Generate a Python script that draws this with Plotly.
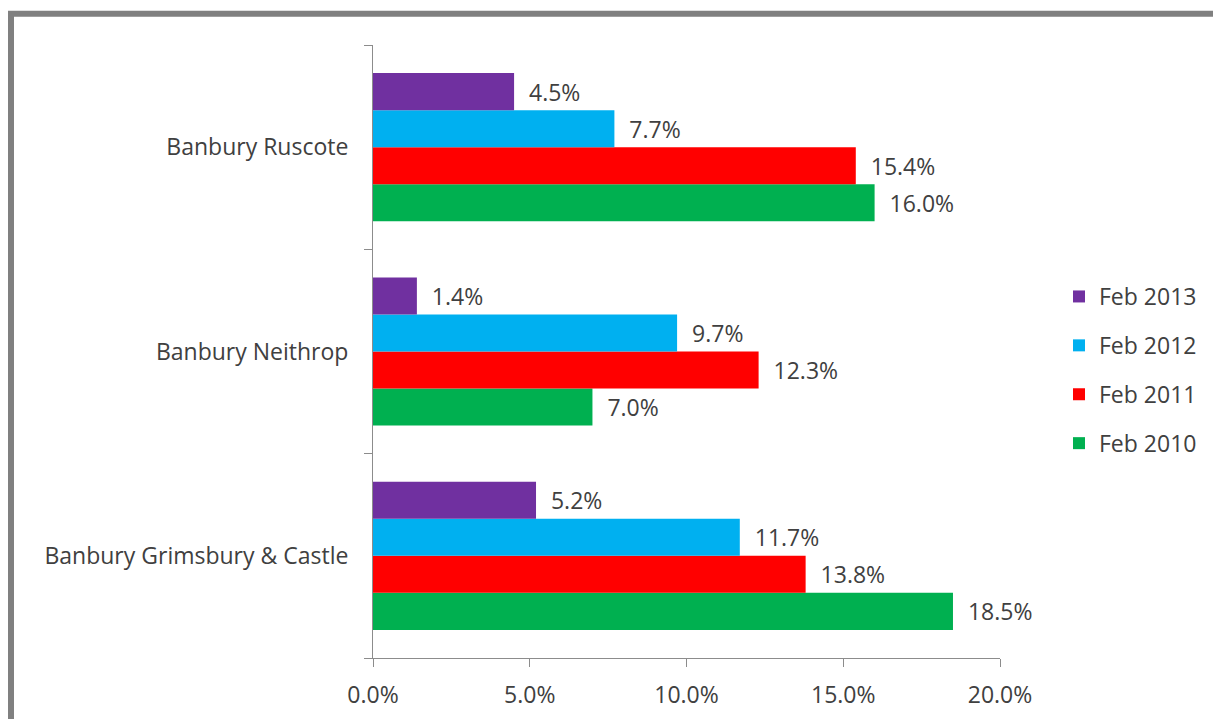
import plotly.graph_objects as go

# Ward names, bottom to top on the category axis
wards = ["Banbury Grimsbury & Castle", "Banbury Neithrop", "Banbury Ruscote"]

# Percentage values per ward for each February
feb_2010 = [18.5, 7.0, 16.0]
feb_2011 = [13.8, 12.3, 15.4]
feb_2012 = [11.7, 9.7, 7.7]
feb_2013 = [5.2, 1.4, 4.5]

# (legend name, values, colour, legend rank) — first trace sits lowest in each group
series = [
    ("Feb 2010", feb_2010, "#00B050", 4),
    ("Feb 2011", feb_2011, "#FF0000", 3),
    ("Feb 2012", feb_2012, "#00B0F0", 2),
    ("Feb 2013", feb_2013, "#7030A0", 1),
]

FONT = "'Open Sans', sans-serif"
FSIZE = 23
TEXT_COLOR = "#404040"
AXIS_COLOR = "#8C8C8C"

fig = go.Figure()
for name, vals, color, rank in series:
    fig.add_trace(go.Bar(
        y=wards,
        x=vals,
        name=name,
        orientation="h",
        legendgroup=name,
        legendrank=rank,
        marker=dict(color=color, line=dict(width=0)),
        texttemplate="\u00a0\u00a0%{x:.1f}%",
        textposition="outside",
        constraintext="none",
        cliponaxis=False,
        textfont=dict(family=FONT, size=FSIZE, color=TEXT_COLOR),
    ))

# Outer grey frame around the chart
W, H = 1213, 719
L, R, T, B = 373, 213, 45, 61
pw, ph = W - L - R, H - T - B


def px_x(p):
    return (p - L) / pw


def px_y(p):
    return (H - B - p) / ph


fig.add_shape(
    type="rect", xref="paper", yref="paper",
    x0=px_x(11), x1=px_x(1240), y0=px_y(760), y1=px_y(13.8),
    line=dict(color="#808080", width=6), fillcolor="rgba(0,0,0,0)",
    layer="below",
)

fig.update_layout(
    width=W, height=H,
    margin=dict(l=L, r=R, t=T, b=B, pad=0, autoexpand=False),
    paper_bgcolor="white", plot_bgcolor="white",
    barmode="group", bargap=0.275, bargroupgap=0,
    font=dict(family=FONT, size=FSIZE, color=TEXT_COLOR),
    showlegend=True,
    legend=dict(
        x=px_x(1059), xanchor="left",
        y=px_y(370), yanchor="middle",
        traceorder="grouped",
        tracegroupgap=16,
        font=dict(family=FONT, size=FSIZE, color=TEXT_COLOR),
        bgcolor="rgba(0,0,0,0)",
    ),
    xaxis=dict(
        range=[0, 20], dtick=5, tick0=0,
        tickformat=".1f", ticksuffix="%",
        showgrid=False, zeroline=False,
        showline=True, linecolor=AXIS_COLOR, linewidth=1,
        ticks="outside", ticklen=8, tickcolor=AXIS_COLOR,
        ticklabelstandoff=8,
        automargin=False,
        tickfont=dict(family=FONT, size=FSIZE, color=TEXT_COLOR),
    ),
    yaxis=dict(
        type="category", range=[-0.5, 2.5],
        showgrid=False, zeroline=False,
        showline=True, linecolor=AXIS_COLOR, linewidth=1,
        ticks="outside", ticklen=8, tickcolor=AXIS_COLOR,
        tickson="boundaries",
        ticklabelstandoff=19,
        automargin=False,
        tickfont=dict(family=FONT, size=FSIZE, color=TEXT_COLOR),
    ),
)

fig.write_html("out.html")
